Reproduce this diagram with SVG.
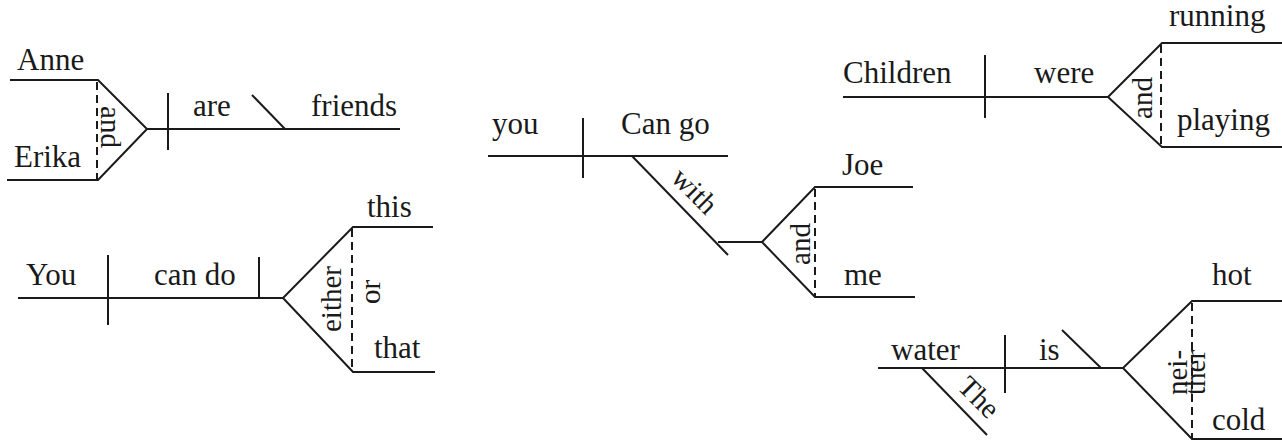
<svg xmlns="http://www.w3.org/2000/svg" width="1282" height="442" viewBox="0 0 1282 442">
<style>
  .ln { stroke: #1a1a1a; stroke-width: 2; fill: none; stroke-linecap: butt; }
  .ds { stroke: #1a1a1a; stroke-width: 2; fill: none; stroke-dasharray: 8 5; }
  .t { font-family: 'Liberation Serif', 'Times New Roman', 'DejaVu Serif', serif; font-size: 31px; fill: #1a1a1a; }
  .rt { font-size: 29px; }
</style>
<rect width="1282" height="442" fill="#ffffff"/>

<!-- Diagram 1: Anne and Erika are friends -->
<g id="d1" class="t" font-family="Liberation Serif, serif">
  <g class="lines">
    <path class="ln" d="M10,80 H98 L147,129 L98,180 H7"/>
    <path class="ln" d="M147,129 H400"/>
    <path class="ln" d="M168,93 V150"/>
    <path class="ln" d="M252,95 L285,129"/>
    <path class="ds" d="M97,82 V180"/>
  </g>
  <text x="17" y="70">Anne</text>
  <text x="14" y="167">Erika</text>
  <text class="rt" transform="translate(101,127) rotate(90)" text-anchor="middle">and</text>
  <text x="193" y="116">are</text>
  <text x="311" y="116">friends</text>
</g>

<!-- Diagram 2: You can do either this or that -->
<g id="d2" class="t" font-family="Liberation Serif, serif">
  <g class="lines">
    <path class="ln" d="M18,298 H283"/>
    <path class="ln" d="M108,255 V325"/>
    <path class="ln" d="M259,257 V298"/>
    <path class="ln" d="M433,227 H353 L283,298 L353,372 H435"/>
    <path class="ds" d="M352,229 V372"/>
  </g>
  <text x="26" y="285">You</text>
  <text x="154" y="285">can do</text>
  <text x="367" y="217">this</text>
  <text x="374" y="358">that</text>
  <text class="rt" transform="translate(341,299) rotate(-90)" text-anchor="middle">either</text>
  <text class="rt" transform="translate(380,292) rotate(-90)" text-anchor="middle">or</text>
</g>

<!-- Diagram 3: you Can go with Joe and me -->
<g id="d3" class="t" font-family="Liberation Serif, serif">
  <g class="lines">
    <path class="ln" d="M488,156 H728"/>
    <path class="ln" d="M583,118 V178"/>
    <path class="ln" d="M632,156 L728,255"/>
    <path class="ln" d="M718,242 H762"/>
    <path class="ln" d="M913,187 H815 L762,242 L815,297 H915"/>
    <path class="ds" d="M815,189 V297"/>
  </g>
  <text x="492" y="134">you</text>
  <text x="621" y="134">Can go</text>
  <text class="rt" transform="translate(632,156) rotate(45)" x="69" y="-10" text-anchor="middle">with</text>
  <text x="842" y="175">Joe</text>
  <text x="844" y="285">me</text>
  <text class="rt" transform="translate(810,244) rotate(-90)" text-anchor="middle">and</text>
</g>

<!-- Diagram 4: Children were running and playing -->
<g id="d4" class="t" font-family="Liberation Serif, serif">
  <g class="lines">
    <path class="ln" d="M843,97 H1108"/>
    <path class="ln" d="M985,55 V118"/>
    <path class="ln" d="M1282,43 H1162 L1108,97 L1162,147 H1282"/>
    <path class="ds" d="M1161,45 V147"/>
  </g>
  <text x="843" y="83">Children</text>
  <text x="1034" y="83">were</text>
  <text x="1169" y="26">running</text>
  <text x="1177" y="130">playing</text>
  <text class="rt" transform="translate(1152,98) rotate(-90)" text-anchor="middle">and</text>
</g>

<!-- Diagram 5: The water is neither hot nor cold -->
<g id="d5" class="t" font-family="Liberation Serif, serif">
  <g class="lines">
    <path class="ln" d="M878,368 H1123"/>
    <path class="ln" d="M1005,335 V393"/>
    <path class="ln" d="M1062,330 L1101,368"/>
    <path class="ln" d="M922,368 L987,435"/>
    <path class="ln" d="M1282,301 H1192 L1123,368 L1192,439 H1282"/>
    <path class="ds" d="M1192,303 V439"/>
  </g>
  <text x="891" y="360">water</text>
  <text x="1039" y="360">is</text>
  <text class="rt" transform="translate(922,368) rotate(45)" x="61" y="-10" text-anchor="middle">The</text>
  <text x="1212" y="285">hot</text>
  <text x="1212" y="430">cold</text>
  <text class="rt" transform="translate(1187,395) rotate(-90)">nei-</text>
  <text class="rt" transform="translate(1205,395) rotate(-90)">ther</text>
</g>
</svg>
